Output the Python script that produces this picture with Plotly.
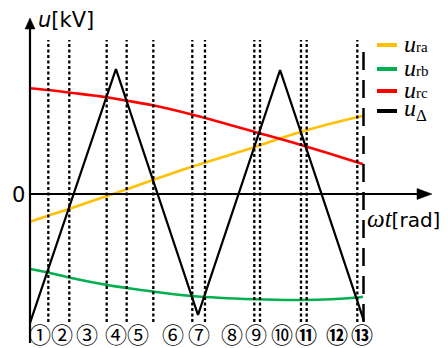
import plotly.graph_objects as go

# ---------------- data ----------------
# time axis normalised: 0 = vertical axis, 1 = end of the interval (long dashed line)
t_curve = [0.0, 0.054, 0.117, 0.231, 0.291, 0.369, 0.486, 0.673, 0.814, 0.982, 1.0]
u_ra = [-0.222, -0.174, -0.120, -0.016, 0.038, 0.112, 0.218, 0.374, 0.498, 0.614, 0.624]
u_rb = [-0.600, -0.628, -0.668, -0.728, -0.752, -0.780, -0.816, -0.842, -0.848, -0.828, -0.822]
u_rc = [0.846, 0.832, 0.812, 0.774, 0.746, 0.710, 0.636, 0.498, 0.392, 0.254, 0.238]

t_tri = [0.0, 0.258, 0.5045, 0.751, 1.003]
u_tri = [-1.032, 1.0, -0.968, 0.992, -1.016]

# switching instants (dotted lines) and end of interval (long dashed line)
t_switch = [0.055, 0.118, 0.2303, 0.2903, 0.3703, 0.4874, 0.5255,
            0.6736, 0.6907, 0.8138, 0.8309, 0.9829]
t_end = 1.0015

# interval labels
seg_labels = ["①", "②", "③", "④", "⑤", "⑥", "⑦", "⑧", "⑨", "⑩", "⑪", "⑫", "⑬"]
seg_pos = [0.030, 0.095, 0.172, 0.257, 0.325, 0.430, 0.508, 0.607, 0.679,
           0.756, 0.829, 0.923, 0.996]

legend_names = ["ra", "rb", "rc", "Δ"]
colors = ["#FFC000", "#00B050", "#FF0000", "#000000"]

# ---------------- geometry helpers ----------------
W, H = 448, 348
PX0, XS = 30.0, 333.0   # pixel of t=0, pixels per unit t
PY0, YS = 194.0, 125.0  # pixel of u=0, pixels per unit u


def X(px):
    return (px - PX0) / XS


def Y(py):
    return (PY0 - py) / YS


fig = go.Figure()

for name, u, c in zip(legend_names[:3], [u_ra, u_rb, u_rc], colors[:3]):
    fig.add_trace(go.Scatter(x=t_curve, y=u, mode="lines",
                             line=dict(color=c, width=2.6, shape="spline",
                                       smoothing=1.0),
                             name=name, showlegend=False, hoverinfo="skip"))

fig.add_trace(go.Scatter(x=t_tri, y=u_tri, mode="lines",
                         line=dict(color="#000000", width=2.3),
                         showlegend=False, hoverinfo="skip"))

shapes = []
# dotted switching lines
for t in t_switch:
    shapes.append(dict(type="line", xref="x", yref="y", x0=t, x1=t,
                       y0=Y(322), y1=Y(40),
                       line=dict(color="black", width=2.3, dash="3px,2.5px")))
# long dashed end line
shapes.append(dict(type="line", xref="x", yref="y", x0=t_end, x1=t_end,
                   y0=Y(322), y1=Y(43),
                   line=dict(color="black", width=2.5, dash="18px,10px")))

# axes
shapes.append(dict(type="line", xref="x", yref="y", x0=X(30), x1=X(30),
                   y0=Y(343), y1=Y(27), line=dict(color="black", width=2.2)))
shapes.append(dict(type="path", xref="x", yref="y",
                   path=f"M {X(30)},{Y(18)} L {X(25)},{Y(29)} L {X(35)},{Y(29)} Z",
                   fillcolor="black", line=dict(color="black", width=0.5)))
shapes.append(dict(type="line", xref="x", yref="y", x0=X(30), x1=X(419),
                   y0=0, y1=0, line=dict(color="black", width=2.2)))
shapes.append(dict(type="path", xref="x", yref="y",
                   path=f"M {X(432)},{Y(194)} L {X(417)},{Y(188.5)} L {X(417)},{Y(199.5)} Z",
                   fillcolor="black", line=dict(color="black", width=0.5)))

# legend samples
leg_y = [45, 69, 91, 111]
for ly, c in zip(leg_y, colors):
    shapes.append(dict(type="line", xref="x", yref="y", x0=X(377), x1=X(397),
                       y0=Y(ly), y1=Y(ly), line=dict(color=c, width=4)))

annotations = []
for ly, nm in zip(leg_y, legend_names):
    if nm == "Δ":
        txt = "<i>u</i><sub>Δ</sub>"
    else:
        txt = f"<i>u</i><span style='font-size:15px'>{nm}</span>"
    annotations.append(dict(x=X(402), y=Y(ly - 1), xref="x", yref="y",
                            text=txt, showarrow=False, xanchor="left",
                            yanchor="middle",
                            font=dict(family="Liberation Serif", size=24,
                                      color="black")))

# axis labels
annotations.append(dict(x=X(36), y=Y(20), xref="x", yref="y",
                        text="<i>u</i>[kV]", showarrow=False, xanchor="left",
                        yanchor="middle",
                        font=dict(family="DejaVu Sans", size=21, color="black")))
annotations.append(dict(x=X(18), y=Y(195), xref="x", yref="y",
                        text="0", showarrow=False, xanchor="center",
                        yanchor="middle",
                        font=dict(family="DejaVu Sans", size=21, color="black")))
annotations.append(dict(x=X(365), y=Y(218), xref="x", yref="y",
                        text="<span style='font-family:Liberation Serif;font-size:25px'><i>ωt</i></span>[rad]",
                        showarrow=False, xanchor="left", yanchor="middle",
                        font=dict(family="DejaVu Sans", size=20, color="black")))

# interval labels
for i, (lab, t) in enumerate(zip(seg_labels, seg_pos)):
    txt = f"<b>{lab}</b>" if i >= 10 else lab
    annotations.append(dict(x=t, y=Y(332.5), xref="x", yref="y", text=txt,
                            showarrow=False, xanchor="center", yanchor="middle",
                            font=dict(family="Noto Sans CJK JP", size=22,
                                      color="black")))

fig.update_layout(
    width=W, height=H,
    margin=dict(l=0, r=0, t=0, b=0),
    paper_bgcolor="white", plot_bgcolor="white",
    xaxis=dict(range=[X(0), X(W)], visible=False, fixedrange=True),
    yaxis=dict(range=[Y(H), Y(0)], visible=False, fixedrange=True),
    shapes=shapes, annotations=annotations, showlegend=False,
)

fig.write_html("out.html")
